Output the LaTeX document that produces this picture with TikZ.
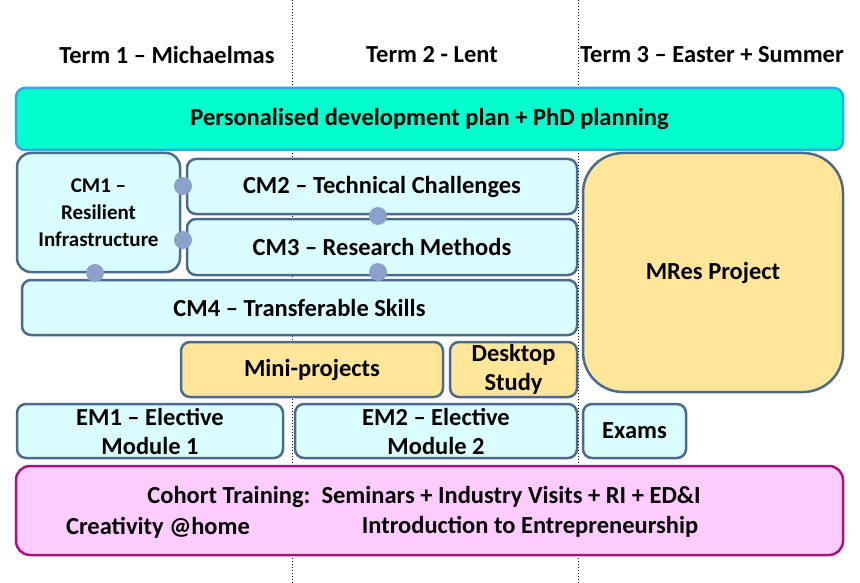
\documentclass[tikz,border=0pt]{standalone}
\usepackage{fontspec}
\setmainfont{Carlito}
\begin{document}
\begin{tikzpicture}[x=1pt,y=-1pt,
  lbl/.style={font=\fontsize{24.5}{29}\selectfont\bfseries,align=center},
  bx/.style={draw=bordc,line width=2.5pt,rounded corners=9pt,fill=cyanl,lbl},
  org/.style={bx,fill=orgl},
  dot/.style={circle,fill=dotc,inner sep=0pt,minimum size=18pt}]
\definecolor{bordc}{HTML}{4A6B8E}
\definecolor{cyanl}{HTML}{DAFEFF}
\definecolor{orgl}{HTML}{FFE699}
\definecolor{dotc}{HTML}{8BA0CB}
\definecolor{aqua}{HTML}{00FFCC}
\definecolor{aquab}{HTML}{33A6E8}
\definecolor{pinkl}{HTML}{FFCCFF}
\definecolor{pinkb}{HTML}{A8127E}
\useasboundingbox (0,0) rectangle (860,583);
\draw[dotted,line width=1pt] (292,0) coordinate(d1) -- (292,583) coordinate(d1e);
\draw[dotted,line width=1pt] (578,0) coordinate(d2) -- (578,583) coordinate(d2e);
\node[lbl] (h1) at (167,55) {Term 1 – Michaelmas};
\node[lbl] (h2) at (432,55) {Term 2 - Lent};
\node[lbl] (h3) at (712,55) {Term 3 – Easter + Summer};
\node[bx,draw=aquab,fill=aqua,minimum width=827,minimum height=62] (pdp) at (429.5,119) {Personalised development plan + PhD planning};
\node[bx,font=\fontsize{21}{27}\selectfont\bfseries,inner sep=0pt,minimum width=163,minimum height=119,rounded corners=14pt] (cm1) at (98.5,212.5) {CM1 –\\Resilient\\Infrastructure};
\node[bx,minimum width=390,minimum height=55] (cm2) at (382,186.5) {CM2 – Technical Challenges};
\node[bx,minimum width=390,minimum height=56] (cm3) at (382,247) {CM3 – Research Methods};
\node[bx,minimum width=555,minimum height=55] (cm4) at (299.5,307.5) {CM4 – Transferable Skills};
\node[org,minimum width=260,minimum height=239,rounded corners=40pt] (mres) at (713,272.5) {MRes Project};
\node[org,minimum width=262,minimum height=55] (mini) at (312,369.5) {Mini-projects};
\node[org,minimum width=127,minimum height=55,inner sep=0pt] (desk) at (513.5,369.5) {Desktop\\Study};
\node[bx,minimum width=266,minimum height=54,inner sep=0pt] (em1) at (150,431) {EM1 – Elective\\Module 1};
\node[bx,minimum width=282,minimum height=54,inner sep=0pt] (em2) at (436,431) {EM2 – Elective\\Module 2};
\node[bx,minimum width=103,minimum height=54] (ex) at (634.5,431) {Exams};
\node[bx,draw=pinkb,fill=pinkl,minimum width=827,minimum height=89,rounded corners=14pt] (coh) at (429.5,510.5) {};
\node[lbl] (c1) at (424,497) {Cohort Training:\ \ Seminars + Industry Visits + RI + ED\&I};
\node[lbl] (c2) at (158,528) {Creativity @home};
\node[lbl] (c3) at (530,527) {Introduction to Entrepreneurship};
\node[dot] (p1) at (183,186) {};
\node[dot] (p2) at (183,240) {};
\node[dot] (p3) at (378,216) {};
\node[dot] (p4) at (378,272) {};
\node[dot] (p5) at (95,273) {};
\end{tikzpicture}
\end{document}
